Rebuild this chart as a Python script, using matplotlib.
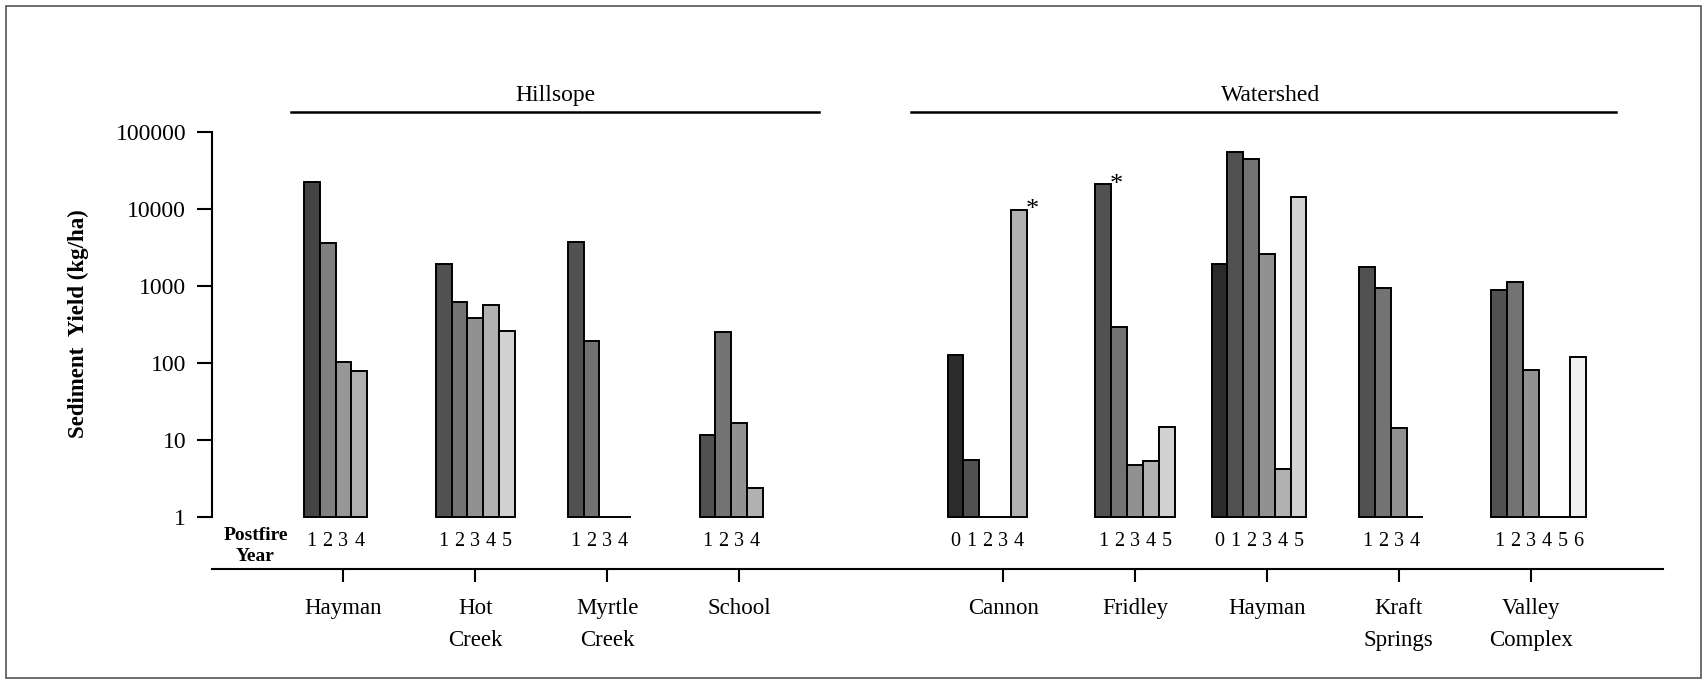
import numpy as np
import matplotlib
matplotlib.use("Agg")
import matplotlib.pyplot as plt
import matplotlib.transforms as mtransforms
from matplotlib.lines import Line2D
from matplotlib.patches import Rectangle
from matplotlib.ticker import NullLocator

plt.rcParams["font.family"] = ["Liberation Serif", "DejaVu Serif"]

nan = np.nan

# Sediment yield (kg/ha) by postfire year 0..6.
# 0 = measured but no yield (flat bar), nan = year not measured.
years = [0, 1, 2, 3, 4, 5, 6]

hill_sites = ["Hayman", "Hot\nCreek", "Myrtle\nCreek", "School"]
hayman_hill = [nan, 22300, 3550, 102, 78, nan, nan]
hot_creek = [nan, 1895, 620, 385, 562, 261, nan]
myrtle_creek = [nan, 3660, 192, 0, 0, nan, nan]
school = [nan, 11.5, 251, 16.6, 2.36, nan, nan]

ws_sites = ["Cannon", "Fridley", "Hayman", "Kraft\nSprings", "Valley\nComplex"]
cannon = [126, 5.5, 0, 0, 9590, nan, nan]
fridley = [nan, 20800, 289, 4.7, 5.4, 14.6, nan]
hayman_ws = [1930, 54700, 43600, 2580, 4.2, 14300, nan]
kraft_springs = [nan, 1760, 925, 14.3, 0, nan, nan]
valley_complex = [nan, 880, 1117, 80, 0, 0, 120]

# (site, year) pairs flagged with an asterisk
flagged = [("Cannon", 4), ("Fridley", 1)]

year_shades = ["#2b2b2b", "#515151", "#737373", "#919191", "#b1b1b1", "#d1d1d1", "#f0f0f0"]
hayman_hill_shades = ["#2b2b2b", "#454545", "#808080", "#979797", "#b0b0b0", "#d1d1d1", "#f0f0f0"]

yticks = [1, 10, 100, 1000, 10000, 100000]
ytick_labels = ["1", "10", "100", "1000", "10000", "100000"]

# ---- layout ----
W, H = 1707, 684
fig = plt.figure(figsize=(W / 100, H / 100), dpi=100)
ax = fig.add_axes([211.5 / W, 1 - 517 / H, (1662.7 - 211.5) / W, (517 - 131.7) / H])
ax.set_yscale("log")
ax.set_ylim(1, 1e5)
ax.set_xlim(-1, 10)

hill_pos = list(range(len(hill_sites)))
ws_pos = [len(hill_sites) + 1 + i for i in range(len(ws_sites))]

groups = [
    (hill_pos[0], hill_sites[0], hayman_hill, hayman_hill_shades),
    (hill_pos[1], hill_sites[1], hot_creek, year_shades),
    (hill_pos[2], hill_sites[2], myrtle_creek, year_shades),
    (hill_pos[3], hill_sites[3], school, year_shades),
    (ws_pos[0], ws_sites[0], cannon, year_shades),
    (ws_pos[1], ws_sites[1], fridley, year_shades),
    (ws_pos[2], ws_sites[2], hayman_ws, year_shades),
    (ws_pos[3], ws_sites[3], kraft_springs, year_shades),
    (ws_pos[4], ws_sites[4], valley_complex, year_shades),
]

width = 0.12
nslots = len(years)
xtrans = ax.get_xaxis_transform()
for pos, site, vals, shades in groups:
    for yr, v in zip(years, vals):
        if np.isnan(v):
            continue
        x = pos + (yr - (nslots - 1) / 2) * width
        ax.bar(x, max(v, 1) - 1, bottom=1, width=width, color=shades[yr],
               edgecolor="black", linewidth=1.4, clip_on=False, zorder=3)
        ax.text(x, -0.064, str(yr), transform=xtrans, ha="center", va="center",
                fontsize=14.5)
        if (site, yr) in flagged:
            ax.annotate("*", xy=(x + width / 2, v), xytext=(3.8, -4.5),
                        textcoords="offset points", ha="center", va="baseline",
                        fontsize=19)

# axes styling
for side in ("top", "right"):
    ax.spines[side].set_visible(False)
ax.spines["left"].set_linewidth(1.5)
ax.spines["bottom"].set_linewidth(1.5)
ax.spines["bottom"].set_position(("outward", 37.7))

ax.set_yticks(yticks)
ax.set_yticklabels(ytick_labels)
ax.yaxis.set_minor_locator(NullLocator())
ax.tick_params(axis="y", direction="out", length=10.8, width=1.5, pad=7.5,
               labelsize=17)

ax.set_xticks(hill_pos + ws_pos)
ax.set_xticklabels(hill_sites + ws_sites, linespacing=1.7)
ax.tick_params(axis="x", direction="out", length=9.6, width=1.5, pad=11,
               labelsize=16.5)

fig.text(78.3 / W, 1 - 324 / H, "Sediment  Yield (kg/ha)", rotation=90,
         ha="center", va="center", fontsize=16.5, fontweight="bold")
fig.text(255.5 / W, 1 - 546 / H, "Postfire\nYear", ha="center", va="center",
         fontsize=14, fontweight="bold", linespacing=1.3)

# group headers with spanning rules
btrans = mtransforms.blended_transform_factory(ax.transData, fig.transFigure)
rule_y = 1 - 112.3 / H
text_y = 1 - 100.7 / H
for label, x0, x1, xc in [("Hillsope", -0.40, 3.608, 1.61),
                          ("Watershed", 4.30, 9.647, 7.03)]:
    fig.add_artist(Line2D([x0, x1], [rule_y, rule_y], transform=btrans,
                          color="black", linewidth=1.8))
    fig.text(xc, text_y, label, transform=btrans, ha="center", va="baseline",
             fontsize=17)

# outer frame
fig.add_artist(Rectangle((6 / W, 6 / H), (W - 12) / W, (H - 12) / H,
                         transform=fig.transFigure, fill=False,
                         edgecolor="#555555", linewidth=1.2))

fig.savefig("out.png", dpi=100)
